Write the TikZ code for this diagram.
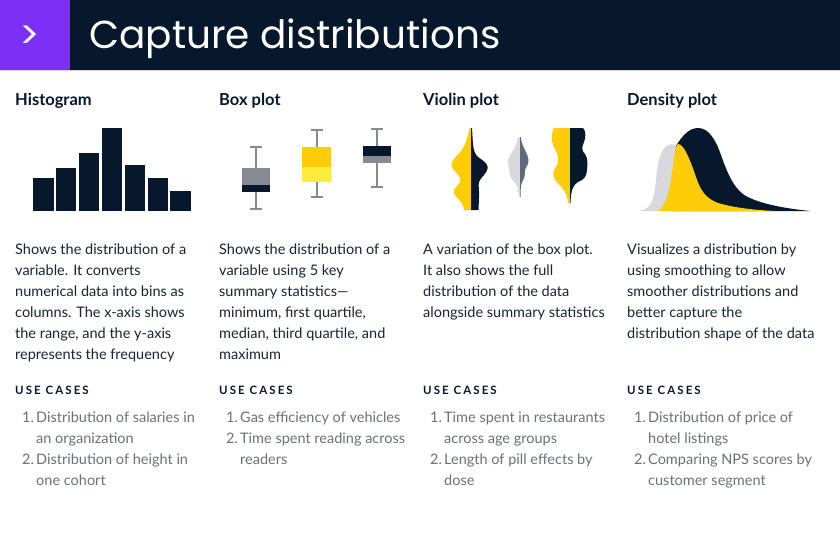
\documentclass[tikz,border=0pt]{standalone}
\usepackage{fontspec}
\setmainfont{Lato}
\newfontfamily\titlefont{Poppins}
\newfontfamily\capsfont[LetterSpace=18]{Lato Bold}
\definecolor{navy}{HTML}{07182C}
\definecolor{purp}{HTML}{7B2FF7}
\definecolor{yel}{HTML}{FFCC0A}
\definecolor{lyel}{HTML}{FFEB3B}
\definecolor{gry}{HTML}{868B91}
\definecolor{lgry}{HTML}{D8D9DF}
\definecolor{dgry}{HTML}{5F6B78}
\definecolor{txt}{HTML}{1A2433}
\definecolor{ltxt}{HTML}{6B717A}
\tikzset{x=1pt,y=-1pt,
 head/.style={anchor=base west,font=\fontsize{16.5}{18}\selectfont\bfseries,text=navy,inner sep=0},
 desc/.style={anchor=north west,align=left,font=\fontsize{14.5}{21}\selectfont,text=txt,inner sep=0},
 uc/.style={anchor=base west,font=\fontsize{11.5}{13}\selectfont\capsfont,text=navy,inner sep=0},
 item/.style={anchor=north west,align=left,font=\fontsize{14.5}{21}\selectfont,text=ltxt,inner sep=0},
 wh/.style={gry,line width=2.2pt},
 whcap/.style={gry,line width=2.2pt}}
\begin{document}
\begin{tikzpicture}
\useasboundingbox (0,0) rectangle (840,542);
\fill[white] (0,0) rectangle (840,542);
\fill[navy] (0,0) rectangle (840,70);
\fill[purp] (0,0) rectangle (70,70);
\draw[lgry,line width=1pt] (0,70.5) -- (840,70.5);
\node[anchor=base west,text=white,inner sep=0,font=\fontsize{38}{38}\selectfont\titlefont] (arr) at (19,48) {>};
\node[anchor=base west,text=white,inner sep=0,font=\fontsize{39}{40}\selectfont\titlefont] (title) at (89,48) {Capture distributions};
% headings
\node[head] (h1) at (15,105) {Histogram};
\node[head] (h2) at (219,105) {Box plot};
\node[head] (h3) at (423,105) {Violin plot};
\node[head] (h4) at (627,105) {Density plot};
% histogram
\foreach \i/\t in {0/178,1/168,2/153,3/128,4/165,5/178,6/191}{
 \fill[navy] (33+\i*22.9,\t) rectangle (33+\i*22.9+20.5,211);}
% box plots
\draw[wh] (256,147) -- (256,209); \draw[whcap] (250,147)--(262,147); \draw[whcap] (250,209)--(262,209);
\fill[gry] (242,168) rectangle (270,185); \fill[navy] (242,185) rectangle (270,192);
\draw[wh] (317,130) -- (317,197); \draw[whcap] (311,130)--(323,130); \draw[whcap] (311,197)--(323,197);
\fill[yel] (302,147) rectangle (331,167); \fill[lyel] (302,167) rectangle (331,182);
\draw[wh] (377,129) -- (377,187); \draw[whcap] (371,129)--(383,129); \draw[whcap] (371,187)--(383,187);
\fill[navy] (363,146) rectangle (391,156); \fill[gry] (363,156) rectangle (391,163);
% violins
\fill[yel] (471,128) -- (469.6,128) .. controls (467,140) and (465,146) .. (460,152) .. controls (455,158) and (451,161) .. (451.5,166) .. controls (452,171) and (460,174) .. (460.5,180) .. controls (461,185) and (453,187) .. (453.5,192) .. controls (454,197) and (463.5,201) .. (464,210) -- (471,210) -- cycle;
\fill[navy] (471,128) -- (472,128) .. controls (473,140) and (472,152) .. (478,157) .. controls (484,161) and (488,164) .. (487.7,168) .. controls (487.5,173) and (480,178) .. (479,182) .. controls (478,186) and (479.5,190) .. (479,198) -- (478.5,210) -- (471,210) -- cycle;
\fill[lgry] (520,137) -- (517.7,137) .. controls (517,148) and (510,153) .. (508,160) .. controls (507,165) and (510,167) .. (509.5,172) .. controls (509,178) and (515,182) .. (517.5,187) -- (519,197) -- (520,197) -- cycle;
\fill[dgry] (520,137) -- (520.8,137) .. controls (522,148) and (528,153) .. (528.5,160) .. controls (529,166) and (524.5,167) .. (525,172) .. controls (525.5,178) and (521,182) .. (520.8,187) -- (520.5,197) -- (520,197) -- cycle;
\fill[yel] (570,128) -- (554,128) .. controls (551,133) and (551.5,140) .. (553,145) .. controls (555,150) and (559,154) .. (558,162) .. controls (557,167) and (552,170) .. (553.5,176) .. controls (555,183) and (563,187) .. (565,192) .. controls (567,196) and (567.5,199) .. (568,203) -- (570,203) -- cycle;
\fill[navy] (570,128) -- (583,128) .. controls (586,131) and (586,137) .. (584,142) .. controls (582,147) and (581,150) .. (585,154) .. controls (588,158) and (587.5,164) .. (587,170) .. controls (586.5,176) and (585,179) .. (578,182) .. controls (573,185) and (571,190) .. (570.5,203) -- (570,203) -- cycle;
% density
\fill[lgry] (639,211) .. controls (652,209) and (654,200) .. (656,180) .. controls (658,155) and (663,145) .. (672,144) .. controls (680,143) and (690,180) .. (700,211) -- cycle;
\fill[navy] (672,211) -- (676,146) .. controls (682,136) and (689,128) .. (698,128) .. controls (708,128) and (715,138) .. (721,155) .. controls (728,175) and (735,192) .. (750,198) .. controls (765,205) and (790,209) .. (810,211) -- cycle;
\fill[yel] (658,211) .. controls (666,206) and (670,190) .. (673,165) .. controls (675,150) and (676,145) .. (678,144) .. controls (684,144) and (690,160) .. (695,174) .. controls (700,190) and (705,198) .. (718,203) .. controls (735,208) and (755,210) .. (775,211) -- cycle;
% descriptions
\node[desc] (d1) at (15,239.3) {\strut Shows the distribution of a\\variable. It converts\\numerical data into bins as\\columns. The x-axis shows\\the range, and the y-axis\\represents the frequency};
\node[desc] (d2) at (219,239.3) {\strut Shows the distribution of a\\variable using 5 key\\summary statistics---\\minimum, first quartile,\\median, third quartile, and\\maximum};
\node[desc] (d3) at (423,239.3) {\strut A variation of the box plot.\\It also shows the full\\distribution of the data\\alongside summary statistics};
\node[desc] (d4) at (627,239.3) {\strut Visualizes a distribution by\\using smoothing to allow\\smoother distributions and\\better capture the\\distribution shape of the data};
% use cases
\node[uc] (u1) at (15,394) {USE CASES};
\node[uc] (u2) at (219,394) {USE CASES};
\node[uc] (u3) at (423,394) {USE CASES};
\node[uc] (u4) at (627,394) {USE CASES};
\foreach \x/\n in {15/a,219/b,423/c,627/d}{
 \node[item] (n1\n) at (\x+7,407.3) {\strut 1.};}
\node[item] (i1a) at (36,407.3) {\strut Distribution of salaries in\\an organization};
\node[item] (n2a) at (22,449.3) {\strut 2.};
\node[item] (i2a) at (36,449.3) {\strut Distribution of height in\\one cohort};
\node[item] (i1b) at (240,407.3) {\strut Gas efficiency of vehicles};
\node[item] (n2b) at (226,428.3) {\strut 2.};
\node[item] (i2b) at (240,428.3) {\strut Time spent reading across\\readers};
\node[item] (i1c) at (444,407.3) {\strut Time spent in restaurants\\across age groups};
\node[item] (n2c) at (430,449.3) {\strut 2.};
\node[item] (i2c) at (444,449.3) {\strut Length of pill effects by\\dose};
\node[item] (i1d) at (648,407.3) {\strut Distribution of price of\\hotel listings};
\node[item] (n2d) at (634,449.3) {\strut 2.};
\node[item] (i2d) at (648,449.3) {\strut Comparing NPS scores by\\customer segment};
\end{tikzpicture}
\end{document}
